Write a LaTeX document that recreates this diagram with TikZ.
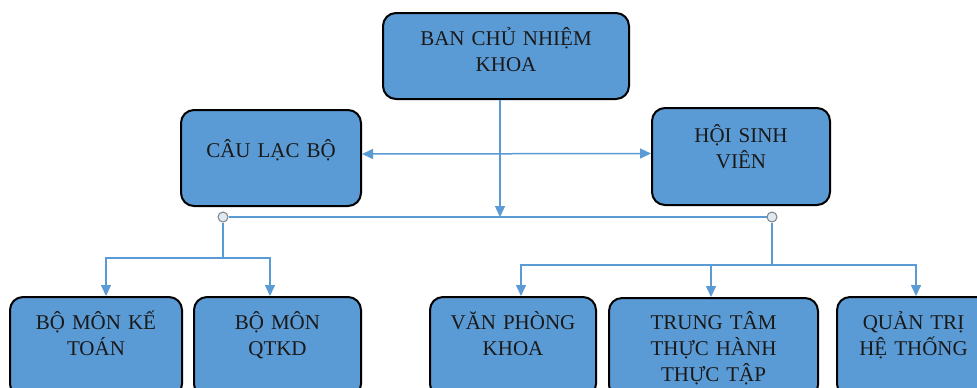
\documentclass[tikz,border=0pt]{standalone}
\usepackage{fontspec}
\setmainfont{Liberation Serif}
\usetikzlibrary{arrows.meta}
\definecolor{boxblue}{RGB}{91,155,213}
\definecolor{lineblue}{RGB}{91,155,213}
\definecolor{dotfill}{RGB}{222,233,242}

\begin{document}
\begin{tikzpicture}[x=0.5pt, y=-0.5pt]
   \tikzstyle{unit}=[draw=black, line width=1pt, fill=boxblue, rounded corners=6.5pt, inner sep=0pt]
   \tikzstyle{lbl}=[anchor=base, inner sep=0pt, text width=100pt, align=center, font=\fontsize{10.5}{13}\selectfont, text=black!90]
   \tikzstyle{conn}=[draw=lineblue, line width=0.75pt]
   \tikzstyle{tip}=[-{Triangle[length=5.5pt, width=5pt]}]
   \tikzstyle{dot}=[draw=gray, fill=dotfill, circle, inner sep=0pt, minimum size=5pt, line width=0.5pt]

   \useasboundingbox (0,0) rectangle (977,387);
   \clip (0,0) rectangle (977,387);

% boxes
\node[unit, minimum width=123pt, minimum height=43pt] (ban) at (506,56) {};
\node[unit, minimum width=90pt, minimum height=48pt] (clb) at (271,158) {};
\node[unit, minimum width=89pt, minimum height=48.5pt] (hsv) at (741,156.5) {};
\node[unit, minimum width=86pt, minimum height=50pt] (kt) at (96,347) {};
\node[unit, minimum width=83.5pt, minimum height=50pt] (qtkd) at (277.5,347) {};
\node[unit, minimum width=83pt, minimum height=50pt] (vpk) at (513,347) {};
\node[unit, minimum width=104.5pt, minimum height=50pt] (ttth) at (713.5,348) {};
\node[unit, minimum width=76.5pt, minimum height=50pt] (qtht) at (913.5,347) {};

% texts (first baseline below the box top)
\node[lbl] (bantext) at ([yshift=-16.5pt]ban.north) {BAN CHỦ NHIỆM\\KHOA};
\node[lbl] (clbtext) at ([yshift=-24pt]clb.north) {CÂU LẠC BỘ};
\node[lbl] (hsvtext) at ([yshift=-17.5pt]hsv.north) {HỘI SINH\\VIÊN};
\node[lbl] (kttext) at ([yshift=-16.5pt]kt.north) {BỘ MÔN KẾ\\TOÁN};
\node[lbl] (qtkdtext) at ([yshift=-16.5pt]qtkd.north) {BỘ MÔN\\QTKD};
\node[lbl] (vpktext) at ([yshift=-16.5pt]vpk.north) {VĂN PHÒNG\\KHOA};
\node[lbl] (tttext) at ([yshift=-16pt]ttth.north) {TRUNG TÂM\\THỰC HÀNH\\THỰC TẬP};
\node[lbl] (qthttext) at ([yshift=-16.5pt]qtht.north) {QUẢN TRỊ\\HỆ THỐNG};

% joints
\coordinate (hub) at (500,217);
\node[dot] (jl) at (223,217) {};
\node[dot] (jr) at (772,217) {};
\coordinate (bl) at (223,258);
\coordinate (br) at (772,265);

\draw[conn, tip] (ban.south -| hub) -- (hub);
\draw[conn, {Triangle[length=5.5pt, width=5pt]}-{Triangle[length=5.5pt, width=5pt]}] ([yshift=2pt]clb.east) -- ([yshift=1.5pt]hsv.west);
\draw[conn] (jl) -- (jr);

\draw[conn] (jl) -- (bl);
\draw[conn, tip] (bl) -| ([xshift=5pt]kt.north);
\draw[conn, tip] (bl) -| ([xshift=-3.75pt]qtkd.north);

\draw[conn] (jr) -- (br);
\draw[conn, tip] (br) -| ([xshift=4pt]vpk.north);
\draw[conn, tip] (br) -| ([xshift=-1.25pt]ttth.north);
\draw[conn, tip] (br) -| ([xshift=1.25pt]qtht.north);

\end{tikzpicture}
\end{document}
